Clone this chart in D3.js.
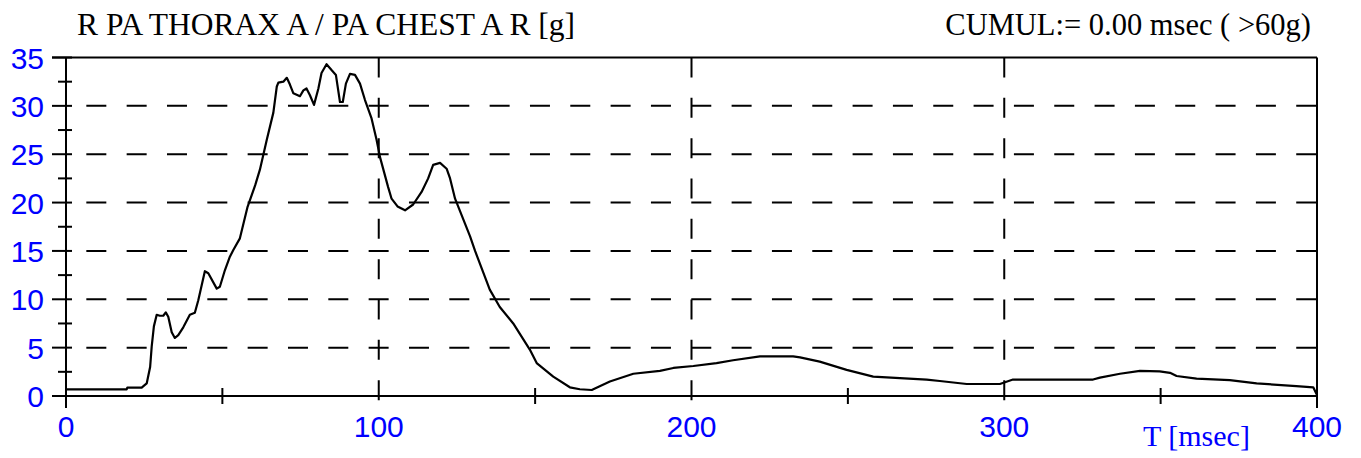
<!DOCTYPE html>
<html>
<head>
<meta charset="utf-8">
<script src="https://cdn.jsdelivr.net/npm/d3@7"></script>
<style>
  body { margin: 0; background: #fff; }
  svg { display: block; }
</style>
</head>
<body>
<div id="chart"></div>
<script>
(function() {

    var width = 1361,
        height = 458;

    var times = [0, 19.4, 19.6, 24.2, 25.8, 26.9, 27.4, 28.1, 29.0, 30.0, 31.1, 31.9, 32.7, 33.8, 34.8, 35.9,
        37.5, 39.6, 41.2, 42.3, 44.4, 45.5, 48.2, 49.2, 50.8, 52.4, 53.5, 55.6, 58.0, 60.5, 62.0, 64.2,
        66.3, 67.4, 67.9, 69.5, 70.6, 71.6, 72.7, 74.8, 75.9, 76.9, 78.0, 79.3, 80.7, 81.7, 83.3, 84.9,
        86.3, 87.6, 88.5, 89.5, 90.8, 92.4, 94.0, 95.6, 97.7, 99.3, 100.4, 103.0, 104.1, 106.0, 108.4, 111.0,
        113.7, 115.8, 117.4, 119.6, 121.7, 122.8, 124.4, 129.2, 130.8, 135.5, 138.7, 143.0, 148.3, 150.5,
        155.8, 161.1, 164.3, 168.1, 173.9, 181.4, 189.9, 194.2, 200.6, 208.0, 213.3, 221.9, 232.5, 234.7,
        241.0, 249.6, 258.1, 275.2, 279.4, 288.0, 298.6, 302.8, 328.4, 330.6, 337.0, 343.4, 349.7, 353.0,
        355.1, 361.5, 372.1, 380.7, 393.4, 398.8, 400];
    var accel = [0.69, 0.69, 0.86, 0.86, 1.3, 3.0, 5.1, 7.2, 8.4, 8.3, 8.3, 8.65, 8.2, 6.6, 6.0, 6.3,
        7.1, 8.4, 8.6, 9.9, 12.9, 12.7, 11.1, 11.3, 13.0, 14.4, 15.1, 16.3, 19.5, 21.8, 23.4, 26.5,
        29.3, 32.0, 32.4, 32.5, 32.9, 32.2, 31.3, 31.0, 31.6, 31.8, 31.1, 30.1, 31.8, 33.4, 34.3, 33.7,
        33.2, 30.4, 30.4, 32.3, 33.3, 33.2, 32.3, 30.6, 28.7, 26.5, 24.7, 21.6, 20.4, 19.6, 19.2, 19.8,
        21.1, 22.5, 23.9, 24.1, 23.5, 22.5, 20.4, 16.5, 15.0, 11.0, 9.2, 7.5, 4.8, 3.4,
        2.0, 0.9, 0.7, 0.62, 1.5, 2.3, 2.6, 2.9, 3.1, 3.4, 3.7, 4.1, 4.1, 4.0,
        3.55, 2.7, 2.0, 1.7, 1.55, 1.24, 1.24, 1.7, 1.7, 1.9, 2.3, 2.6, 2.55, 2.4,
        2.07, 1.8, 1.65, 1.3, 1.03, 0.9, 0.1];

    var yTicks = [0, 5, 10, 15, 20, 25, 30, 35];
    var yMinorTicks = [2.5, 7.5, 12.5, 17.5, 22.5, 27.5, 32.5];
    var xTicks = [0, 100, 200, 300, 400];
    var xMinorTicks = [50, 150, 250, 350];
    var xGrid = [100, 200, 300];
    var yGrid = [5, 10, 15, 20, 25, 30];

    var titleLeft = "R PA THORAX A / PA CHEST A R [g]";
    var titleRight = "CUMUL:= 0.00 msec ( >60g)";
    var xTitle = "T [msec]";

    var data = times.map(function(t, i) { return { t: t, v: accel[i] }; });

    var x = d3.scaleLinear().domain([0, 400]).range([66, 1317]);
    var y = d3.scaleLinear().domain([0, 35]).range([396, 57.5]);

    var svg = d3.select("#chart")
        .append("svg")
        .attr("width", width)
        .attr("height", height);

    var blue = "#0000ff";

    // horizontal dashed grid
    svg.selectAll(".hgrid")
        .data(yGrid)
        .enter().append("line")
        .attr("class", "hgrid")
        .attr("x1", x(0)).attr("x2", x(400))
        .attr("y1", function(d) { return y(d); })
        .attr("y2", function(d) { return y(d); })
        .attr("stroke", "#000")
        .attr("stroke-width", 2)
        .attr("stroke-dasharray", "20 20.33")
        .attr("stroke-dashoffset", 20);

    // vertical dashed grid
    svg.selectAll(".vgrid")
        .data(xGrid)
        .enter().append("line")
        .attr("class", "vgrid")
        .attr("x1", function(d) { return x(d); })
        .attr("x2", function(d) { return x(d); })
        .attr("y1", y(35)).attr("y2", y(0) + 12)
        .attr("stroke", "#000")
        .attr("stroke-width", 2)
        .attr("stroke-dasharray", "20 20.33");

    // frame
    var frame = svg.append("g")
        .attr("stroke", "#000")
        .attr("stroke-width", 2);
    frame.append("line")
        .attr("x1", x(0) - 14).attr("x2", x(400))
        .attr("y1", y(35)).attr("y2", y(35));
    frame.append("line")
        .attr("x1", x(0) - 14).attr("x2", x(400))
        .attr("y1", y(0)).attr("y2", y(0));
    frame.append("line")
        .attr("x1", x(0)).attr("x2", x(0))
        .attr("y1", y(35)).attr("y2", y(0) + 12);
    frame.append("line")
        .attr("x1", x(400)).attr("x2", x(400))
        .attr("y1", y(35)).attr("y2", y(0) + 12);

    // y ticks
    frame.selectAll(".ymaj")
        .data(yTicks)
        .enter().append("line")
        .attr("x1", x(0) - 14).attr("x2", x(0) + 6)
        .attr("y1", function(d) { return y(d); })
        .attr("y2", function(d) { return y(d); });
    frame.selectAll(".ymin")
        .data(yMinorTicks)
        .enter().append("line")
        .attr("x1", x(0) - 8).attr("x2", x(0) + 6)
        .attr("y1", function(d) { return y(d); })
        .attr("y2", function(d) { return y(d); });

    // x minor ticks
    frame.selectAll(".xmin")
        .data(xMinorTicks)
        .enter().append("line")
        .attr("x1", function(d) { return x(d); })
        .attr("x2", function(d) { return x(d); })
        .attr("y1", y(0) - 8).attr("y2", y(0) + 8);

    // curve
    var line = d3.line()
        .x(function(d) { return x(d.t); })
        .y(function(d) { return y(d.v); });

    svg.append("path")
        .datum(data)
        .attr("d", line)
        .attr("fill", "none")
        .attr("stroke", "#000")
        .attr("stroke-width", 2.2)
        .attr("stroke-linejoin", "round");

    // labels
    svg.selectAll(".ylab")
        .data(yTicks)
        .enter().append("text")
        .attr("x", 44)
        .attr("y", function(d) { return y(d) + 11; })
        .attr("text-anchor", "end")
        .attr("font-family", "Liberation Sans, Arial, sans-serif")
        .attr("font-size", 30)
        .attr("fill", blue)
        .text(function(d) { return d; });

    svg.selectAll(".xlab")
        .data(xTicks)
        .enter().append("text")
        .attr("x", function(d) { return x(d); })
        .attr("y", 437)
        .attr("text-anchor", "middle")
        .attr("font-family", "Liberation Sans, Arial, sans-serif")
        .attr("font-size", 30)
        .attr("fill", blue)
        .text(function(d) { return d; });

    svg.append("text")
        .attr("x", 1143)
        .attr("y", 446)
        .attr("font-family", "Liberation Serif, Times New Roman, serif")
        .attr("font-size", 30)
        .attr("fill", blue)
        .text(xTitle);

    svg.append("text")
        .attr("x", 77)
        .attr("y", 35)
        .attr("font-family", "Liberation Serif, Times New Roman, serif")
        .attr("font-size", 31.5)
        .attr("fill", "#000")
        .text(titleLeft);

    svg.append("text")
        .attr("x", 1311)
        .attr("y", 35)
        .attr("text-anchor", "end")
        .attr("font-family", "Liberation Serif, Times New Roman, serif")
        .attr("font-size", 30.5)
        .attr("fill", "#000")
        .text(titleRight);

})();
</script>
</body>
</html>
